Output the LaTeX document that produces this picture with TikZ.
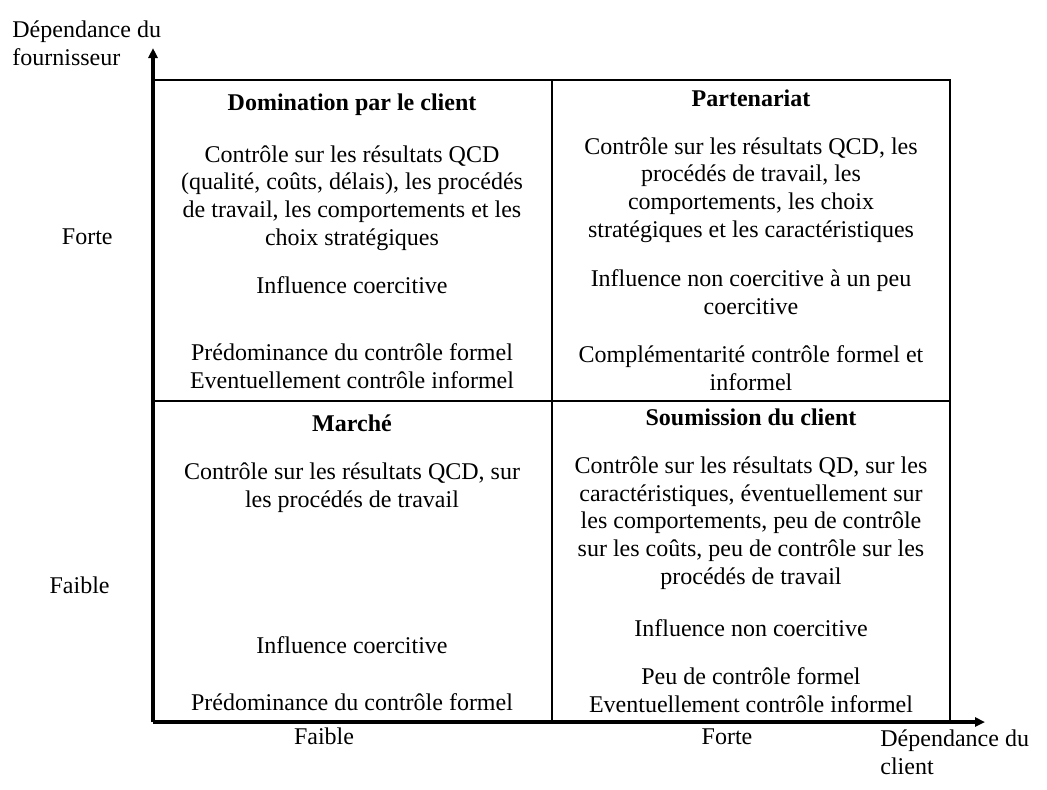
\documentclass[tikz,border=0pt]{standalone}
\usepackage{fontspec}
\setmainfont{Liberation Serif}
\usetikzlibrary{arrows.meta}
\begin{document}
\begin{tikzpicture}[x=0.5pt,y=-0.5pt,
                    cell node/.style={align=center,anchor=base,inner sep=0pt,font=\fontsize{12pt}{13.8pt}\selectfont},
                    title node/.style={cell node,font=\fontsize{12pt}{13.8pt}\selectfont\bfseries},
                    axis label/.style={align=left,inner sep=0pt,font=\fontsize{12pt}{14pt}\selectfont},
                    axis/.style={line width=1.8pt,-{Triangle[length=5pt,width=4.5pt]}},
                    grid line/.style={line width=0.7pt}
                   ]
  \useasboundingbox (0,0) rectangle (1047,789);

  % frame and axes
  \coordinate (o) at (153,722);
  \coordinate (ytip) at (153,48);
  \coordinate (xtip) at (985,722);
  \coordinate (tl) at (153,80);
  \coordinate (tr) at (950,80);
  \coordinate (br) at (950,722);
  \coordinate (mt) at (552,80);
  \coordinate (mb) at (552,722);
  \coordinate (ml) at (153,401);
  \coordinate (mr) at (950,401);

  \draw[grid line] (tl) -- (tr) -- (br);
  \draw[grid line] (mt) -- (mb);
  \draw[grid line] (ml) -- (mr);
  \draw[axis] (o) -- (ytip);
  \draw[axis] (o) -- (xtip);

  % axis labels (base = last line)
  \node[axis label,anchor=base west] (yname) at (12,65) {Dépendance du\\fournisseur};
  \node[axis label,anchor=base west] (xname) at (880,774) {Dépendance du\\client};
  \node[axis label,anchor=base east] (yhigh) at (113,244) {Forte};
  \node[axis label,anchor=base east] (ylow) at (110,593) {Faible};
  \node[axis label,anchor=base] (xlow) at (324,744) {Faible};
  \node[axis label,anchor=base] (xhigh) at (727,744) {Forte};

  % top left
  \node[title node] (domt) at (352,110) {Domination par le client};
  \node[cell node] (domc) at (352,245) {Contrôle sur les résultats QCD\\(qualité, coûts, délais), les procédés\\de travail, les comportements et les\\choix stratégiques};
  \node[cell node] (domi) at (352,293) {Influence coercitive};
  \node[cell node] (domf) at (352,388) {Prédominance du contrôle formel\\Eventuellement contrôle informel};

  % top right
  \node[title node] (part) at (751,106) {Partenariat};
  \node[cell node] (parc) at (751,237) {Contrôle sur les résultats QCD, les\\procédés de travail, les\\comportements, les choix\\stratégiques et les caractéristiques};
  \node[cell node] (pari) at (751,314) {Influence non coercitive à un peu\\coercitive};
  \node[cell node] (parf) at (751,390) {Complémentarité contrôle formel et\\informel};

  % bottom left
  \node[title node] (mart) at (352,431) {Marché};
  \node[cell node] (marc) at (352,507) {Contrôle sur les résultats QCD, sur\\les procédés de travail};
  \node[cell node] (mari) at (352,653) {Influence coercitive};
  \node[cell node] (marf) at (352,710) {Prédominance du contrôle formel};

  % bottom right
  \node[title node] (sout) at (751,425) {Soumission du client};
  \node[cell node] (souc) at (751,584) {Contrôle sur les résultats QD, sur les\\caractéristiques, éventuellement sur\\les comportements, peu de contrôle\\sur les coûts, peu de contrôle sur les\\procédés de travail};
  \node[cell node] (soui) at (751,636) {Influence non coercitive};
  \node[cell node] (souf) at (751,712) {Peu de contrôle formel\\Eventuellement contrôle informel};
\end{tikzpicture}
\end{document}
